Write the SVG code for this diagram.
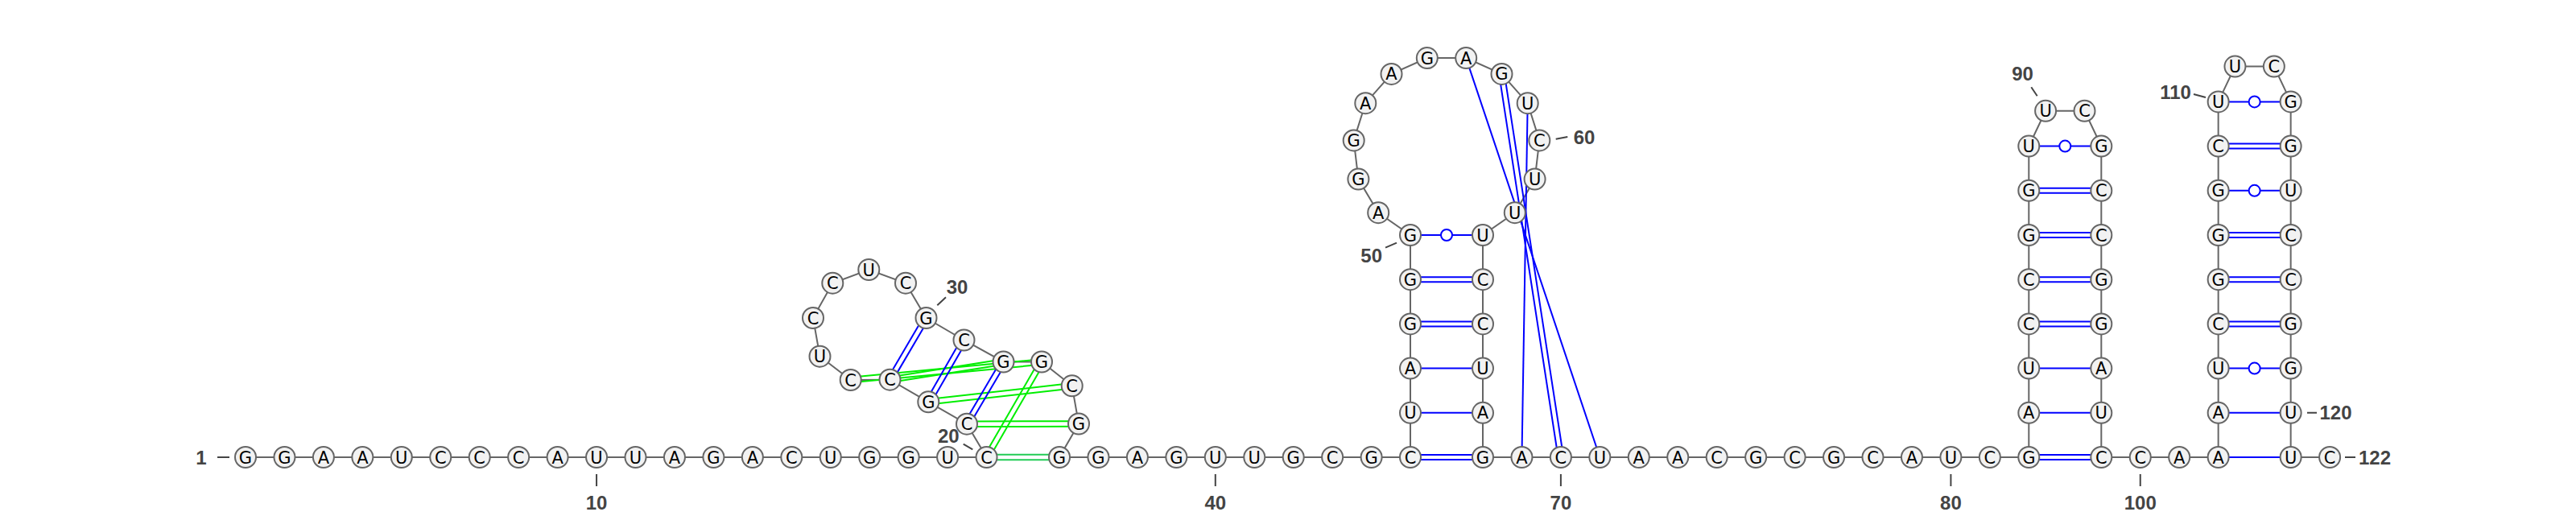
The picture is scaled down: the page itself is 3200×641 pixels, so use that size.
<svg xmlns="http://www.w3.org/2000/svg" width="3200" height="641" viewBox="0 0 3200 641">
<style>
.bb{fill:none;stroke:#666;stroke-width:2}
.bp{fill:none;stroke:#0000ff;stroke-width:2}
.tp{fill:none;stroke:#00ee00;stroke-width:2}
.tp2{fill:none;stroke:#22cc55;stroke-width:2}
.wb{fill:#fff;stroke:#0000ff;stroke-width:2}
.nt circle{fill:#f2f2f2;stroke:#666;stroke-width:2}
.nt text{font-family:"DejaVu Sans","Liberation Sans",sans-serif;font-size:21px;text-anchor:middle;fill:#000}
.lbl{font-family:"Liberation Sans",Arial,sans-serif;font-weight:bold;font-size:24px;fill:#444;text-anchor:middle}
.ls{text-anchor:start}
.tick{stroke:#444;stroke-width:2;fill:none}
</style>
<rect width="3200" height="641" fill="#fff"/>
<g id="connectors">
<polyline class="bb" points="305,568 1225.55,568 1201,526.7 1153.3,499.3 1105.5,471.7 1056.7,472 1018.5,442.7 1010,395 1034.3,351.7 1079.3,335 1125,351.7 1150.5,395 1197.5,422.5 1246.5,449.5 1294,449.5 1331.7,479.3 1340,526.5 1316,568 1752,568 1752,292 1712.2,264.2 1687.4,222.6 1681.7,174.4 1696.3,128.2 1728.5,91.9 1772.8,72.1 1821.2,72.1 1865.5,91.9 1897.7,128.2 1912.3,174.4 1906.6,222.6 1881.8,264.2 1842,292 1842,568 2520.3,568 2520.3,181.6 2541.1,137.8 2589.5,137.8 2610.3,181.6 2610.3,568 2755.65,568 2755.65,126.4 2776.45,82.6 2824.85,82.6 2845.65,126.4 2845.65,568 2894.1,568"/>
<!-- green tertiary pairs -->
<path class="tp2" d="M1225.55,564.7H1316M1225.55,571.3H1316"/>
<path class="tp" d="M1228.41,569.65L1296.86,451.15M1222.69,566.35L1291.14,447.85"/>
<path class="tp" d="M1201,523.4L1340,523.2M1201,530L1340,529.8"/>
<path class="tp" d="M1153.67,502.58L1332.07,482.58M1152.93,496.02L1331.33,476.02"/>
<path class="tp" d="M1106.01,474.96L1247.01,452.76M1104.99,468.44L1245.99,446.24"/>
<path class="tp" d="M1057.01,475.28L1294.31,452.78M1056.39,468.72L1293.69,446.22"/>
<!-- hairpin 21-32 -->
<path class="bp" d="M1203.84,528.38L1249.34,451.18M1198.16,525.02L1243.66,447.82"/>
<path class="bp" d="M1156.16,500.95L1200.36,424.15M1150.44,497.65L1194.64,420.85"/>
<path class="bp" d="M1108.35,473.37L1153.35,396.67M1102.65,470.03L1147.65,393.33"/>
<!-- hairpin 45-68 -->
<path class="bp" d="M1752,565H1842M1752,571H1842"/>
<path class="bp" d="M1752,512.8H1842"/>
<path class="bp" d="M1752,457.6H1842"/>
<path class="bp" d="M1752,399.4H1842M1752,405.4H1842"/>
<path class="bp" d="M1752,344.2H1842M1752,350.2H1842"/>
<path class="bp" d="M1752,292H1842"/>
<circle class="wb" cx="1797" cy="292" r="7"/>
<!-- pseudoknot -->
<path class="bp" d="M1821.2,72.1L1987.35,568"/>
<path class="bp" d="M1868.76,91.4L1942.16,567.5M1862.24,92.4L1935.64,568.5"/>
<path class="bp" d="M1897.7,128.2L1890.45,568"/>
<!-- hairpin 82-99 -->
<path class="bp" d="M2520.3,565H2610.3M2520.3,571H2610.3"/>
<path class="bp" d="M2520.3,512.8H2610.3"/>
<path class="bp" d="M2520.3,457.6H2610.3"/>
<path class="bp" d="M2520.3,399.4H2610.3M2520.3,405.4H2610.3"/>
<path class="bp" d="M2520.3,344.2H2610.3M2520.3,350.2H2610.3"/>
<path class="bp" d="M2520.3,289H2610.3M2520.3,295H2610.3"/>
<path class="bp" d="M2520.3,233.8H2610.3M2520.3,239.8H2610.3"/>
<path class="bp" d="M2520.3,181.6H2610.3"/>
<circle class="wb" cx="2565.3" cy="181.6" r="7"/>
<!-- hairpin 102-121 -->
<path class="bp" d="M2755.65,568H2845.65"/>
<path class="bp" d="M2755.65,512.8H2845.65"/>
<path class="bp" d="M2755.65,457.6H2845.65"/>
<circle class="wb" cx="2800.65" cy="457.6" r="7"/>
<path class="bp" d="M2755.65,399.4H2845.65M2755.65,405.4H2845.65"/>
<path class="bp" d="M2755.65,344.2H2845.65M2755.65,350.2H2845.65"/>
<path class="bp" d="M2755.65,289H2845.65M2755.65,295H2845.65"/>
<path class="bp" d="M2755.65,236.8H2845.65"/>
<circle class="wb" cx="2800.65" cy="236.8" r="7"/>
<path class="bp" d="M2755.65,178.6H2845.65M2755.65,184.6H2845.65"/>
<path class="bp" d="M2755.65,126.4H2845.65"/>
<circle class="wb" cx="2800.65" cy="126.4" r="7"/>
</g>
<g id="numbering">
<path class="tick" d="M270,568H285M741.05,589V604M1509.8,589V604M1938.9,589V604M2423.4,589V604M2658.75,589V604M1196.7,551.7L1208.3,558.3M1164.3,379.3L1175,369.3M1721,307.7L1735,301.7M1932.7,172.7L1947.3,170M2523.3,108.2L2530.7,119.2M2725,117L2740,121M2866,512.8H2878M2913,568H2926"/>
<text class="lbl" x="250" y="576.5">1</text>
<text class="lbl" x="741.05" y="633">10</text>
<text class="lbl" x="1178.3" y="550">20</text>
<text class="lbl" x="1189" y="365">30</text>
<text class="lbl" x="1509.8" y="633">40</text>
<text class="lbl" x="1703.7" y="325.5">50</text>
<text class="lbl" x="1968" y="178.5">60</text>
<text class="lbl" x="1938.9" y="633">70</text>
<text class="lbl" x="2423.4" y="633">80</text>
<text class="lbl" x="2512.5" y="99.5">90</text>
<text class="lbl" x="2658.75" y="633">100</text>
<text class="lbl" x="2702.5" y="123">110</text>
<text class="lbl ls" x="2881.5" y="521.4">120</text>
<text class="lbl ls" x="2930" y="576.6">122</text>
</g>
<g id="n1" class="nt" transform="translate(305,568)"><circle r="13"/><text y="7.5">G</text></g>
<g id="n2" class="nt" transform="translate(353.45,568)"><circle r="13"/><text y="7.5">G</text></g>
<g id="n3" class="nt" transform="translate(401.9,568)"><circle r="13"/><text y="7.5">A</text></g>
<g id="n4" class="nt" transform="translate(450.35,568)"><circle r="13"/><text y="7.5">A</text></g>
<g id="n5" class="nt" transform="translate(498.8,568)"><circle r="13"/><text y="7.5">U</text></g>
<g id="n6" class="nt" transform="translate(547.25,568)"><circle r="13"/><text y="7.5">C</text></g>
<g id="n7" class="nt" transform="translate(595.7,568)"><circle r="13"/><text y="7.5">C</text></g>
<g id="n8" class="nt" transform="translate(644.15,568)"><circle r="13"/><text y="7.5">C</text></g>
<g id="n9" class="nt" transform="translate(692.6,568)"><circle r="13"/><text y="7.5">A</text></g>
<g id="n10" class="nt" transform="translate(741.05,568)"><circle r="13"/><text y="7.5">U</text></g>
<g id="n11" class="nt" transform="translate(789.5,568)"><circle r="13"/><text y="7.5">U</text></g>
<g id="n12" class="nt" transform="translate(837.95,568)"><circle r="13"/><text y="7.5">A</text></g>
<g id="n13" class="nt" transform="translate(886.4,568)"><circle r="13"/><text y="7.5">G</text></g>
<g id="n14" class="nt" transform="translate(934.85,568)"><circle r="13"/><text y="7.5">A</text></g>
<g id="n15" class="nt" transform="translate(983.3,568)"><circle r="13"/><text y="7.5">C</text></g>
<g id="n16" class="nt" transform="translate(1031.75,568)"><circle r="13"/><text y="7.5">U</text></g>
<g id="n17" class="nt" transform="translate(1080.2,568)"><circle r="13"/><text y="7.5">G</text></g>
<g id="n18" class="nt" transform="translate(1128.65,568)"><circle r="13"/><text y="7.5">G</text></g>
<g id="n19" class="nt" transform="translate(1177.1,568)"><circle r="13"/><text y="7.5">U</text></g>
<g id="n20" class="nt" transform="translate(1225.55,568)"><circle r="13"/><text y="7.5">C</text></g>
<g id="n21" class="nt" transform="translate(1201,526.7)"><circle r="13"/><text y="7.5">C</text></g>
<g id="n22" class="nt" transform="translate(1153.3,499.3)"><circle r="13"/><text y="7.5">G</text></g>
<g id="n23" class="nt" transform="translate(1105.5,471.7)"><circle r="13"/><text y="7.5">C</text></g>
<g id="n24" class="nt" transform="translate(1056.7,472)"><circle r="13"/><text y="7.5">C</text></g>
<g id="n25" class="nt" transform="translate(1018.5,442.7)"><circle r="13"/><text y="7.5">U</text></g>
<g id="n26" class="nt" transform="translate(1010,395)"><circle r="13"/><text y="7.5">C</text></g>
<g id="n27" class="nt" transform="translate(1034.3,351.7)"><circle r="13"/><text y="7.5">C</text></g>
<g id="n28" class="nt" transform="translate(1079.3,335)"><circle r="13"/><text y="7.5">U</text></g>
<g id="n29" class="nt" transform="translate(1125,351.7)"><circle r="13"/><text y="7.5">C</text></g>
<g id="n30" class="nt" transform="translate(1150.5,395)"><circle r="13"/><text y="7.5">G</text></g>
<g id="n31" class="nt" transform="translate(1197.5,422.5)"><circle r="13"/><text y="7.5">C</text></g>
<g id="n32" class="nt" transform="translate(1246.5,449.5)"><circle r="13"/><text y="7.5">G</text></g>
<g id="n33" class="nt" transform="translate(1294,449.5)"><circle r="13"/><text y="7.5">G</text></g>
<g id="n34" class="nt" transform="translate(1331.7,479.3)"><circle r="13"/><text y="7.5">C</text></g>
<g id="n35" class="nt" transform="translate(1340,526.5)"><circle r="13"/><text y="7.5">G</text></g>
<g id="n36" class="nt" transform="translate(1316,568)"><circle r="13"/><text y="7.5">G</text></g>
<g id="n37" class="nt" transform="translate(1364.45,568)"><circle r="13"/><text y="7.5">G</text></g>
<g id="n38" class="nt" transform="translate(1412.9,568)"><circle r="13"/><text y="7.5">A</text></g>
<g id="n39" class="nt" transform="translate(1461.35,568)"><circle r="13"/><text y="7.5">G</text></g>
<g id="n40" class="nt" transform="translate(1509.8,568)"><circle r="13"/><text y="7.5">U</text></g>
<g id="n41" class="nt" transform="translate(1558.25,568)"><circle r="13"/><text y="7.5">U</text></g>
<g id="n42" class="nt" transform="translate(1606.7,568)"><circle r="13"/><text y="7.5">G</text></g>
<g id="n43" class="nt" transform="translate(1655.15,568)"><circle r="13"/><text y="7.5">C</text></g>
<g id="n44" class="nt" transform="translate(1703.6,568)"><circle r="13"/><text y="7.5">G</text></g>
<g id="n45" class="nt" transform="translate(1752,568)"><circle r="13"/><text y="7.5">C</text></g>
<g id="n46" class="nt" transform="translate(1752,512.8)"><circle r="13"/><text y="7.5">U</text></g>
<g id="n47" class="nt" transform="translate(1752,457.6)"><circle r="13"/><text y="7.5">A</text></g>
<g id="n48" class="nt" transform="translate(1752,402.4)"><circle r="13"/><text y="7.5">G</text></g>
<g id="n49" class="nt" transform="translate(1752,347.2)"><circle r="13"/><text y="7.5">G</text></g>
<g id="n50" class="nt" transform="translate(1752,292)"><circle r="13"/><text y="7.5">G</text></g>
<g id="n51" class="nt" transform="translate(1712.2,264.2)"><circle r="13"/><text y="7.5">A</text></g>
<g id="n52" class="nt" transform="translate(1687.4,222.6)"><circle r="13"/><text y="7.5">G</text></g>
<g id="n53" class="nt" transform="translate(1681.7,174.4)"><circle r="13"/><text y="7.5">G</text></g>
<g id="n54" class="nt" transform="translate(1696.3,128.2)"><circle r="13"/><text y="7.5">A</text></g>
<g id="n55" class="nt" transform="translate(1728.5,91.9)"><circle r="13"/><text y="7.5">A</text></g>
<g id="n56" class="nt" transform="translate(1772.8,72.1)"><circle r="13"/><text y="7.5">G</text></g>
<g id="n57" class="nt" transform="translate(1821.2,72.1)"><circle r="13"/><text y="7.5">A</text></g>
<g id="n58" class="nt" transform="translate(1865.5,91.9)"><circle r="13"/><text y="7.5">G</text></g>
<g id="n59" class="nt" transform="translate(1897.7,128.2)"><circle r="13"/><text y="7.5">U</text></g>
<g id="n60" class="nt" transform="translate(1912.3,174.4)"><circle r="13"/><text y="7.5">C</text></g>
<g id="n61" class="nt" transform="translate(1906.6,222.6)"><circle r="13"/><text y="7.5">U</text></g>
<g id="n62" class="nt" transform="translate(1881.8,264.2)"><circle r="13"/><text y="7.5">U</text></g>
<g id="n63" class="nt" transform="translate(1842,292)"><circle r="13"/><text y="7.5">U</text></g>
<g id="n64" class="nt" transform="translate(1842,347.2)"><circle r="13"/><text y="7.5">C</text></g>
<g id="n65" class="nt" transform="translate(1842,402.4)"><circle r="13"/><text y="7.5">C</text></g>
<g id="n66" class="nt" transform="translate(1842,457.6)"><circle r="13"/><text y="7.5">U</text></g>
<g id="n67" class="nt" transform="translate(1842,512.8)"><circle r="13"/><text y="7.5">A</text></g>
<g id="n68" class="nt" transform="translate(1842,568)"><circle r="13"/><text y="7.5">G</text></g>
<g id="n69" class="nt" transform="translate(1890.45,568)"><circle r="13"/><text y="7.5">A</text></g>
<g id="n70" class="nt" transform="translate(1938.9,568)"><circle r="13"/><text y="7.5">C</text></g>
<g id="n71" class="nt" transform="translate(1987.35,568)"><circle r="13"/><text y="7.5">U</text></g>
<g id="n72" class="nt" transform="translate(2035.8,568)"><circle r="13"/><text y="7.5">A</text></g>
<g id="n73" class="nt" transform="translate(2084.25,568)"><circle r="13"/><text y="7.5">A</text></g>
<g id="n74" class="nt" transform="translate(2132.7,568)"><circle r="13"/><text y="7.5">C</text></g>
<g id="n75" class="nt" transform="translate(2181.15,568)"><circle r="13"/><text y="7.5">G</text></g>
<g id="n76" class="nt" transform="translate(2229.6,568)"><circle r="13"/><text y="7.5">C</text></g>
<g id="n77" class="nt" transform="translate(2278.05,568)"><circle r="13"/><text y="7.5">G</text></g>
<g id="n78" class="nt" transform="translate(2326.5,568)"><circle r="13"/><text y="7.5">C</text></g>
<g id="n79" class="nt" transform="translate(2374.95,568)"><circle r="13"/><text y="7.5">A</text></g>
<g id="n80" class="nt" transform="translate(2423.4,568)"><circle r="13"/><text y="7.5">U</text></g>
<g id="n81" class="nt" transform="translate(2471.85,568)"><circle r="13"/><text y="7.5">C</text></g>
<g id="n82" class="nt" transform="translate(2520.3,568)"><circle r="13"/><text y="7.5">G</text></g>
<g id="n83" class="nt" transform="translate(2520.3,512.8)"><circle r="13"/><text y="7.5">A</text></g>
<g id="n84" class="nt" transform="translate(2520.3,457.6)"><circle r="13"/><text y="7.5">U</text></g>
<g id="n85" class="nt" transform="translate(2520.3,402.4)"><circle r="13"/><text y="7.5">C</text></g>
<g id="n86" class="nt" transform="translate(2520.3,347.2)"><circle r="13"/><text y="7.5">C</text></g>
<g id="n87" class="nt" transform="translate(2520.3,292)"><circle r="13"/><text y="7.5">G</text></g>
<g id="n88" class="nt" transform="translate(2520.3,236.8)"><circle r="13"/><text y="7.5">G</text></g>
<g id="n89" class="nt" transform="translate(2520.3,181.6)"><circle r="13"/><text y="7.5">U</text></g>
<g id="n90" class="nt" transform="translate(2541.1,137.8)"><circle r="13"/><text y="7.5">U</text></g>
<g id="n91" class="nt" transform="translate(2589.5,137.8)"><circle r="13"/><text y="7.5">C</text></g>
<g id="n92" class="nt" transform="translate(2610.3,181.6)"><circle r="13"/><text y="7.5">G</text></g>
<g id="n93" class="nt" transform="translate(2610.3,236.8)"><circle r="13"/><text y="7.5">C</text></g>
<g id="n94" class="nt" transform="translate(2610.3,292)"><circle r="13"/><text y="7.5">C</text></g>
<g id="n95" class="nt" transform="translate(2610.3,347.2)"><circle r="13"/><text y="7.5">G</text></g>
<g id="n96" class="nt" transform="translate(2610.3,402.4)"><circle r="13"/><text y="7.5">G</text></g>
<g id="n97" class="nt" transform="translate(2610.3,457.6)"><circle r="13"/><text y="7.5">A</text></g>
<g id="n98" class="nt" transform="translate(2610.3,512.8)"><circle r="13"/><text y="7.5">U</text></g>
<g id="n99" class="nt" transform="translate(2610.3,568)"><circle r="13"/><text y="7.5">C</text></g>
<g id="n100" class="nt" transform="translate(2658.75,568)"><circle r="13"/><text y="7.5">C</text></g>
<g id="n101" class="nt" transform="translate(2707.2,568)"><circle r="13"/><text y="7.5">A</text></g>
<g id="n102" class="nt" transform="translate(2755.65,568)"><circle r="13"/><text y="7.5">A</text></g>
<g id="n103" class="nt" transform="translate(2755.65,512.8)"><circle r="13"/><text y="7.5">A</text></g>
<g id="n104" class="nt" transform="translate(2755.65,457.6)"><circle r="13"/><text y="7.5">U</text></g>
<g id="n105" class="nt" transform="translate(2755.65,402.4)"><circle r="13"/><text y="7.5">C</text></g>
<g id="n106" class="nt" transform="translate(2755.65,347.2)"><circle r="13"/><text y="7.5">G</text></g>
<g id="n107" class="nt" transform="translate(2755.65,292)"><circle r="13"/><text y="7.5">G</text></g>
<g id="n108" class="nt" transform="translate(2755.65,236.8)"><circle r="13"/><text y="7.5">G</text></g>
<g id="n109" class="nt" transform="translate(2755.65,181.6)"><circle r="13"/><text y="7.5">C</text></g>
<g id="n110" class="nt" transform="translate(2755.65,126.4)"><circle r="13"/><text y="7.5">U</text></g>
<g id="n111" class="nt" transform="translate(2776.45,82.6)"><circle r="13"/><text y="7.5">U</text></g>
<g id="n112" class="nt" transform="translate(2824.85,82.6)"><circle r="13"/><text y="7.5">C</text></g>
<g id="n113" class="nt" transform="translate(2845.65,126.4)"><circle r="13"/><text y="7.5">G</text></g>
<g id="n114" class="nt" transform="translate(2845.65,181.6)"><circle r="13"/><text y="7.5">G</text></g>
<g id="n115" class="nt" transform="translate(2845.65,236.8)"><circle r="13"/><text y="7.5">U</text></g>
<g id="n116" class="nt" transform="translate(2845.65,292)"><circle r="13"/><text y="7.5">C</text></g>
<g id="n117" class="nt" transform="translate(2845.65,347.2)"><circle r="13"/><text y="7.5">C</text></g>
<g id="n118" class="nt" transform="translate(2845.65,402.4)"><circle r="13"/><text y="7.5">G</text></g>
<g id="n119" class="nt" transform="translate(2845.65,457.6)"><circle r="13"/><text y="7.5">G</text></g>
<g id="n120" class="nt" transform="translate(2845.65,512.8)"><circle r="13"/><text y="7.5">U</text></g>
<g id="n121" class="nt" transform="translate(2845.65,568)"><circle r="13"/><text y="7.5">U</text></g>
<g id="n122" class="nt" transform="translate(2894.1,568)"><circle r="13"/><text y="7.5">C</text></g>
</svg>
